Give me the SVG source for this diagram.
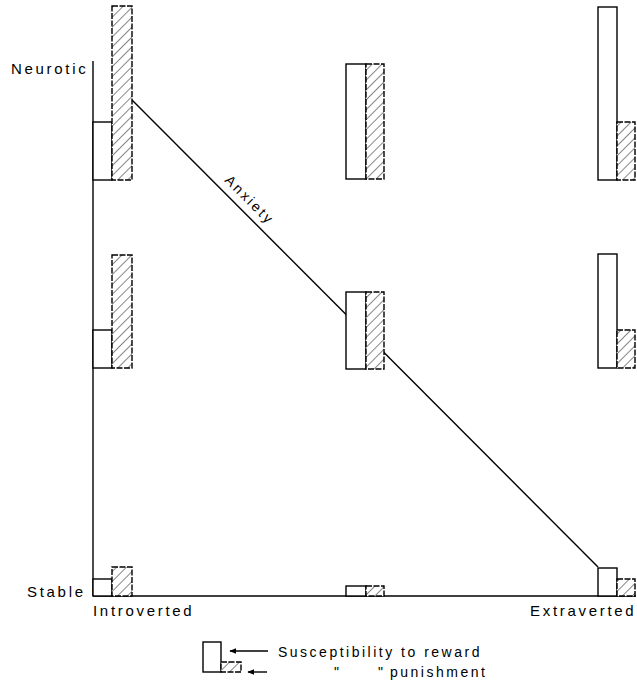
<svg xmlns="http://www.w3.org/2000/svg" width="637" height="687" viewBox="0 0 637 687">
<defs>
<pattern id="hatch" patternUnits="userSpaceOnUse" width="7" height="7" patternTransform="rotate(45)">
<rect width="7" height="7" fill="#fff"/>
<line x1="0" y1="0" x2="0" y2="7" stroke="#222" stroke-width="1.1"/>
</pattern>
<marker id="arr" viewBox="0 0 10 10" refX="9" refY="5" markerWidth="7" markerHeight="7" markerUnits="userSpaceOnUse" orient="auto">
<path d="M10,5 L0,1 L0,9 Z" fill="#000"/>
</marker>
</defs>
<style>
.w{fill:#fff;stroke:#000;stroke-width:1.4}
.h{fill:url(#hatch);stroke:#000;stroke-width:1.4;stroke-dasharray:6 1.5}
.ax{stroke:#000;stroke-width:1.4;fill:none}
.t{font-family:"Liberation Sans",Arial,sans-serif;font-size:15px;letter-spacing:2.7px;fill:#000}
.s{font-family:"Liberation Sans",Arial,sans-serif;font-size:14px;letter-spacing:2.5px;fill:#000}
</style>
<rect width="637" height="687" fill="#fff"/>
<g id="axes">
<line class="ax" x1="93" y1="61" x2="93" y2="596"/>
<line class="ax" x1="93" y1="596" x2="636" y2="596"/>
</g>
<g id="connectors">
<line class="ax" x1="132" y1="100" x2="598" y2="567"/>
<text class="s" transform="translate(224,181) rotate(45)">Anxiety</text>
</g>
<g id="node-neurotic-introvert"><rect class="w" x="93" y="122" width="19" height="58"/><rect class="h" x="112" y="6" width="20" height="174"/></g>
<g id="node-neurotic-ambivert"><rect class="w" x="346" y="64" width="20" height="115"/><rect class="h" x="366" y="64" width="18" height="115"/></g>
<g id="node-neurotic-extravert"><rect class="w" x="598" y="7" width="19" height="173"/><rect class="h" x="617" y="122" width="18" height="58"/></g>
<g id="node-middle-introvert"><rect class="w" x="93" y="330" width="19" height="38"/><rect class="h" x="112" y="255" width="20" height="113"/></g>
<g id="node-middle-ambivert"><rect class="w" x="346" y="292" width="20" height="77"/><rect class="h" x="366" y="292" width="18" height="77"/></g>
<g id="node-middle-extravert"><rect class="w" x="598" y="254" width="19" height="114"/><rect class="h" x="617" y="330" width="18" height="38"/></g>
<g id="node-stable-introvert"><rect class="w" x="93" y="579" width="19" height="17"/><rect class="h" x="112" y="567" width="20" height="29"/></g>
<g id="node-stable-ambivert"><rect class="w" x="346" y="586" width="20" height="10"/><rect class="h" x="366" y="586" width="18" height="10"/></g>
<g id="node-stable-extravert"><rect class="w" x="598" y="568" width="19" height="28"/><rect class="h" x="617" y="579" width="18" height="17"/></g>
<g id="labels">
<text class="t" x="11" y="74">Neurotic</text>
<text class="t" x="27" y="597">Stable</text>
<text class="t" x="93" y="616">Introverted</text>
<text class="t" x="530" y="616">Extraverted</text>
</g>
<g id="legend">
<rect class="w" x="203" y="642" width="18" height="30"/>
<rect class="h" x="221" y="662" width="20" height="10"/>
<line class="ax" x1="268" y1="651" x2="230" y2="651" marker-end="url(#arr)"/>
<line class="ax" x1="267" y1="672" x2="248" y2="672" marker-end="url(#arr)"/>
<text class="s" x="278" y="657">Susceptibility to reward</text>
<text class="s" x="334" y="677">"</text>
<text class="s" x="378" y="677">"</text>
<text class="s" x="390" y="677">punishment</text>
</g>
</svg>
